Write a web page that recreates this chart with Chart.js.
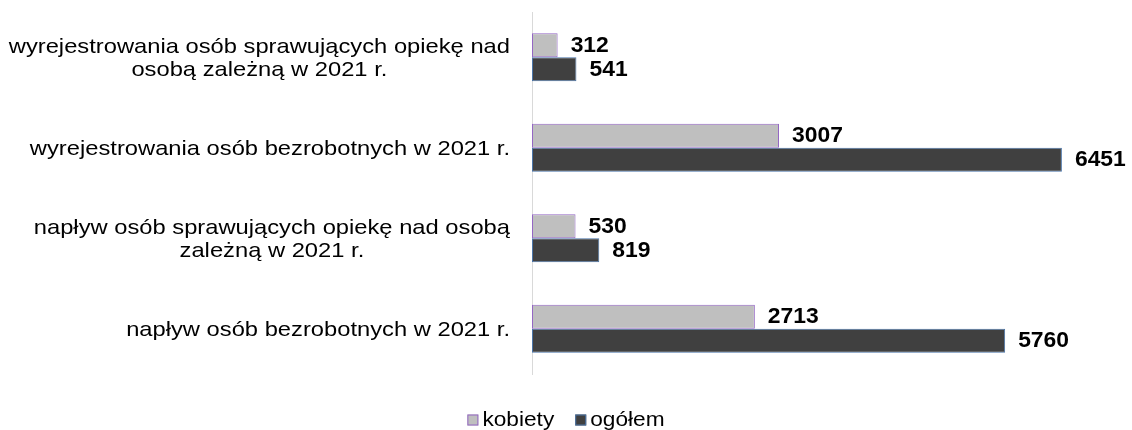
<!DOCTYPE html>
<html><head><meta charset="utf-8">
<script src="https://cdn.jsdelivr.net/npm/chart.js@4.4.1/dist/chart.umd.min.js"></script>
<style>html,body{margin:0;padding:0;background:#fff}#wrap{width:1132px;height:430px}</style>
</head><body><div id="wrap"><canvas id="c" width="1132" height="430"></canvas></div>
<script>
const categories = [
  ["wyrejestrowania osób sprawujących opiekę nad", "osobą zależną w 2021 r."],
  ["wyrejestrowania osób bezrobotnych w 2021 r."],
  ["napływ osób sprawujących opiekę nad osobą", "zależną w 2021 r."],
  ["napływ osób bezrobotnych w 2021 r."]
];
const kobiety = [312, 3007, 530, 2713];
const ogolem = [541, 6451, 819, 5760];
const seriesNames = ["kobiety", "ogółem"];

const FONT = "'Liberation Sans', Arial, sans-serif";

// draw left-aligned text stretched horizontally by sx
function stretchText(ctx, t, x, y, sx) {
  ctx.save();
  ctx.translate(x, y);
  ctx.scale(sx, 1);
  ctx.textAlign = 'left';
  ctx.fillText(t, 0, 0);
  ctx.restore();
}

const customDraw = {
  id: 'customDraw',
  afterDatasetsDraw(chart) {
    const ctx = chart.ctx;
    const ys = chart.scales.y;
    const ca = chart.chartArea;
    ctx.save();
    ctx.fillStyle = "#000";
    ctx.textBaseline = "middle";
    // category labels
    const SX = 1.13;
    ctx.font = "21px " + FONT;
    const lh = 23;
    categories.forEach((lines, i) => {
      const cy = ys.getPixelForValue(i);
      let w = 0;
      lines.forEach(l => { w = Math.max(w, ctx.measureText(l).width * SX); });
      const right = ca.left - 22;
      const cx = right - w / 2;
      const y0 = cy - (lines.length - 1) * lh / 2;
      lines.forEach((l, k) => {
        const lw = ctx.measureText(l).width * SX;
        stretchText(ctx, l, cx - lw / 2, y0 + k * lh + 1, SX);
      });
    });
    // data labels
    ctx.font = "bold 22px " + FONT;
    chart.data.datasets.forEach((ds, di) => {
      const meta = chart.getDatasetMeta(di);
      meta.data.forEach((bar, i) => {
        stretchText(ctx, String(ds.data[i]), bar.x + 13, bar.y + 0.5, 1.04);
      });
    });
    // legend
    const LSX = 1.08;
    ctx.font = "21px " + FONT;
    const box = 11, gapText = 4, gapItem = 21;
    const items = chart.data.datasets.map(ds => ({ t: ds.label, f: ds.backgroundColor, b: ds.borderColor, w: ctx.measureText(ds.label).width * LSX }));
    let total = 0;
    items.forEach((it, k) => { total += box + gapText + it.w + (k < items.length - 1 ? gapItem : 0); });
    let x = chart.width / 2 - total / 2;
    const ly = 420;
    items.forEach(it => {
      ctx.fillStyle = it.f;
      ctx.fillRect(x, ly - 5.5, box, box);
      ctx.strokeStyle = it.b;
      ctx.lineWidth = 1;
      ctx.strokeRect(x + 0.5, ly - 5, box - 1, box - 1);
      ctx.fillStyle = "#000";
      stretchText(ctx, it.t, x + box + gapText, ly, LSX);
      x += box + gapText + it.w + gapItem;
    });
    ctx.restore();
  }
};

new Chart(document.getElementById('c'), {
  type: 'bar',
  data: {
    labels: categories.map(c => c.join(' ')),
    datasets: [
      { label: seriesNames[0], data: kobiety, backgroundColor: '#bfbfbf', borderColor: '#9467c4', borderWidth: 1, borderSkipped: false,
        categoryPercentage: 0.53, barPercentage: 1 },
      { label: seriesNames[1], data: ogolem, backgroundColor: '#404040', borderColor: '#4a74a8', borderWidth: 1, borderSkipped: false,
        categoryPercentage: 0.53, barPercentage: 1 }
    ]
  },
  options: {
    indexAxis: 'y',
    responsive: false,
    animation: false,
    devicePixelRatio: 1,
    layout: { padding: { top: 12, right: 25, bottom: 0, left: 0 } },
    plugins: { legend: { display: false }, tooltip: { enabled: false } },
    scales: {
      x: {
        min: 0, max: 7000,
        display: true,
        ticks: { display: false },
        grid: { display: false },
        border: { display: false },
        afterFit(s) { s.height = 56; }
      },
      y: {
        ticks: { display: false },
        grid: { display: false },
        border: { display: true, color: '#d9d9d9', width: 1 },
        afterFit(s) { s.width = 532; }
      }
    }
  },
  plugins: [customDraw]
});
</script>
</body></html>
